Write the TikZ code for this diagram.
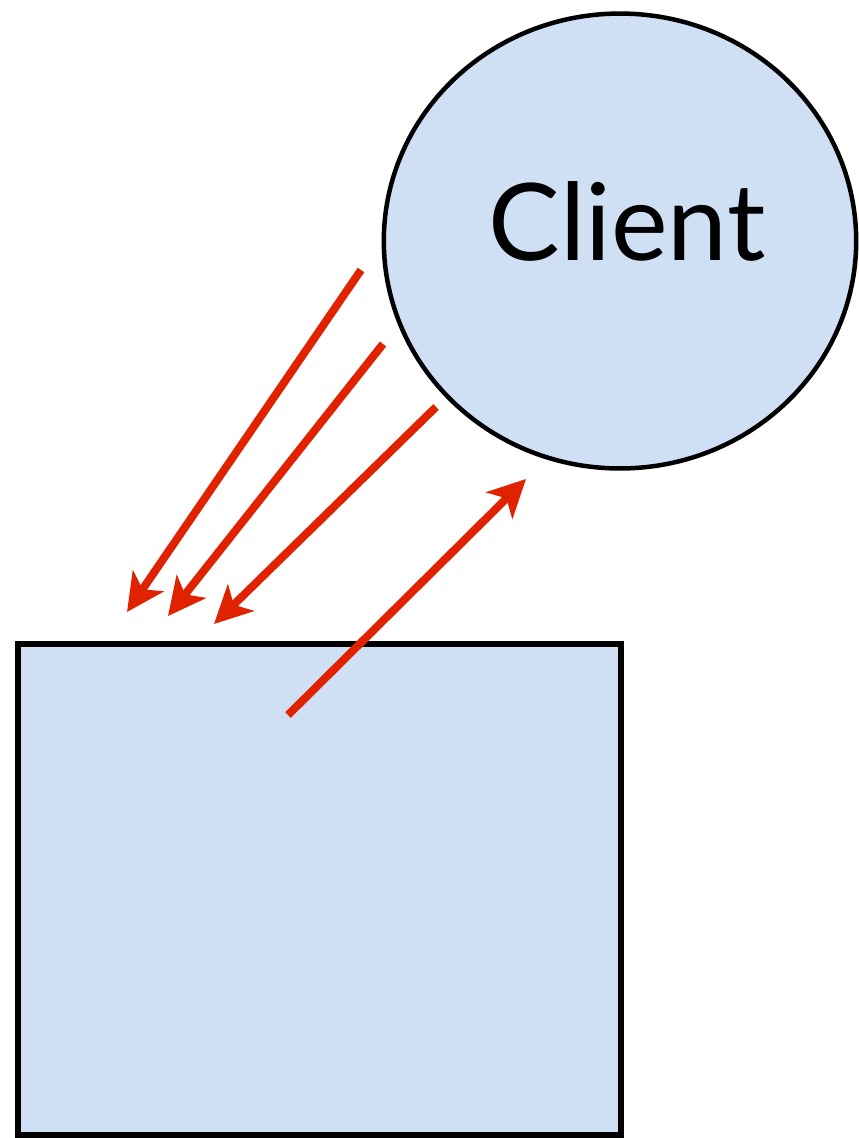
\documentclass[tikz,border=0pt]{standalone}
\usepackage{fontspec}
\setmainfont{Lato}
\usetikzlibrary{shapes,arrows.meta,positioning}

\definecolor{paleblue}{HTML}{D0E0F4}
\definecolor{msgred}{HTML}{E02200}

\begin{document}
\begin{tikzpicture}[x=0.02cm, y=-0.02cm]
			\tikzstyle{Box}		= [draw, fill=paleblue, line width=0.11cm, inner sep=0pt]
			\tikzstyle{Peer}	= [ellipse, draw, fill=paleblue, line width=0.09cm, inner sep=0pt]
			\tikzstyle{Msg}		= [line width=0.16cm, msgred, -{Stealth[length=0.75cm, width=0.74cm, inset=0.2cm]}]

			\useasboundingbox (0,0) rectangle (858,1138);

			\node (client) at (620,241) [Peer, minimum width=9.45cm, minimum height=9.1cm] {};
			\node (clienttext) at (627,221) [font=\fontsize{61}{72}\selectfont] {Client};
			\node (server) at (319.5,889.5) [Box, minimum width=12.06cm, minimum height=9.82cm] {};

			\coordinate (r1) at (361,270);
			\coordinate (r2) at (383,344);
			\coordinate (r3) at (436,407);
			\coordinate (t1) at (127,612);
			\coordinate (t2) at (168,616);
			\coordinate (t3) at (214,624);
			\coordinate (s0) at (288,715);
			\coordinate (s1) at (526,479);

			\draw (r1) to (t1) [Msg];
			\draw (r2) to (t2) [Msg];
			\draw (r3) to (t3) [Msg];
			\draw (s0) to (s1) [Msg];
		\end{tikzpicture}
\end{document}
